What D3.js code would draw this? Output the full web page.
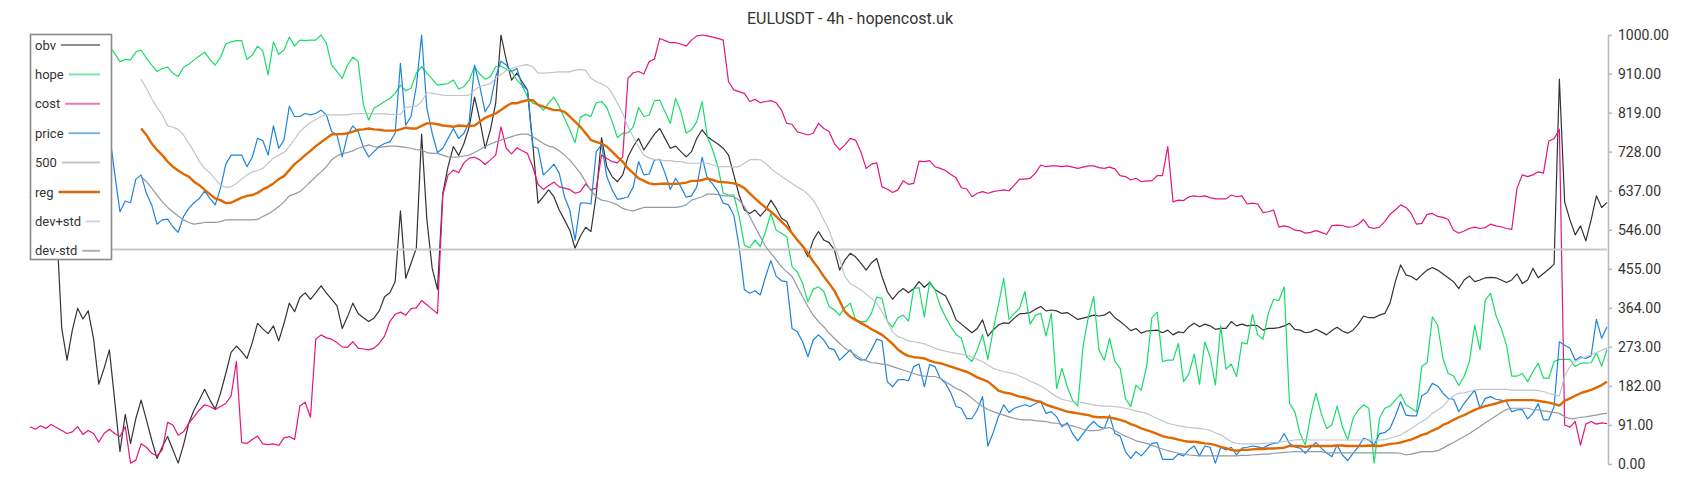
<!DOCTYPE html>
<html><head><meta charset="utf-8">
<script src="https://cdn.jsdelivr.net/npm/d3@7"></script>
<style>
body{margin:0;background:#fff;}
svg text{font-family:Roboto, "Noto Sans", sans-serif;}
</style>
</head><body>
<svg id="chart" width="1700" height="500"></svg>
<script>
const chartTitle = "EULUSDT - 4h - hopencost.uk";
const yTickValues = [0,91,182,273,364,455,546,637,728,819,910,1000];
const seriesNames = ["obv","hope","cost","price","500","reg","dev+std","dev-std"];
const level500 = 500;
const bandStart = 21;

const obv = [
620,640,600,610,590,560,316,242,312,363,
338,357,293,186,223,266,149,29,116,48,
106,149,103,56,13,40,64,33,2,44,
95,126,149,174,149,128,165,211,260,275,
262,246,283,328,315,304,322,287,328,375,
355,388,399,384,399,415,399,384,369,316,
343,375,351,341,332,340,357,390,399,425,
590,433,468,503,769,569,456,407,631,693,
740,719,747,786,855,802,736,779,841,1000,
942,895,911,891,872,747,608,623,639,623,
592,569,545,503,531,552,542,627,761,693,
670,658,674,716,740,759,732,751,769,782,
759,736,741,728,716,728,759,779,763,754,
746,736,720,674,627,592,584,592,578,592,
615,596,573,565,538,522,507,483,522,542,
522,516,499,452,476,491,483,468,452,469,
479,437,402,384,399,409,399,409,425,412,
423,407,399,392,367,336,326,316,306,316,
336,298,312,324,329,328,340,350,351,353,
361,367,357,359,357,351,353,345,337,340,
343,347,345,347,355,341,332,322,311,316,
305,310,311,312,306,312,301,308,306,320,
328,320,326,322,314,316,316,332,322,326,
322,324,322,312,316,316,318,322,328,314,
312,306,308,314,308,301,311,319,310,305,
312,326,345,341,341,347,351,375,425,464,
441,437,429,441,452,458,452,443,434,425,
409,429,438,425,429,434,435,434,429,423,
429,443,421,429,456,434,444,454,466,897,
611,569,534,555,520,569,625,598,610];

const hope = [
960,955,965,958,950,962,970,960,955,948,
958,965,970,968,975,973,957,938,943,942,
960,965,946,930,915,922,925,911,903,925,
932,942,951,960,943,930,948,979,984,987,
987,943,953,974,963,907,984,955,965,995,
974,988,987,988,988,1000,981,930,915,899,
930,948,939,837,802,829,837,845,852,864,
883,870,876,911,926,911,897,883,885,887,
895,874,880,895,926,909,897,903,926,928,
920,915,895,882,856,841,837,825,841,855,
833,806,779,749,808,815,810,842,845,831,
798,761,771,772,786,831,810,813,847,848,
821,794,852,821,771,779,798,845,763,732,
693,631,627,627,577,510,504,522,507,542,
584,545,538,530,460,448,421,378,407,413,
402,367,359,347,365,375,336,332,332,351,
389,386,333,319,341,347,333,409,411,343,
425,407,368,343,320,302,293,250,239,266,
302,244,312,371,433,337,351,363,402,326,
347,351,298,351,176,223,180,149,135,275,
343,390,266,242,293,239,223,153,134,184,
172,227,341,354,239,242,242,281,192,210,
256,186,285,250,184,322,221,233,204,283,
280,349,301,291,351,384,381,413,141,122,
71,44,114,165,118,83,91,135,87,56,
106,126,138,130,2,106,130,135,149,163,
138,130,122,228,236,343,324,246,211,205,
183,204,239,324,266,382,398,347,316,277,
205,205,211,192,215,235,200,200,239,244,
244,244,227,235,235,236,259,228,267];

const cost = [
87,81,89,83,92,85,78,71,75,87,
69,78,71,51,71,81,71,64,87,2,
9,47,39,25,19,33,97,91,67,75,
95,110,126,138,134,127,134,141,159,239,
50,48,57,65,47,45,47,43,61,64,
57,135,144,109,291,301,294,291,283,273,
272,285,270,268,266,270,281,298,332,349,
354,347,362,364,381,371,361,351,627,674,
685,679,702,713,715,709,698,709,720,786,
736,723,737,730,724,693,652,640,649,657,
646,643,640,631,635,653,639,643,720,712,
705,702,716,899,912,915,909,938,944,992,
987,982,982,979,974,988,998,1000,998,995,
992,988,891,872,868,864,845,850,842,845,
847,842,825,794,792,774,771,767,771,794,
782,775,747,732,744,759,755,728,689,699,
702,646,641,633,639,660,652,654,706,705,
707,693,689,684,675,667,644,641,623,631,
635,631,635,637,639,637,650,664,664,666,
678,697,693,695,695,693,695,692,689,692,
695,695,691,689,692,688,672,670,662,666,
658,660,660,672,672,740,611,615,614,623,
625,623,625,621,618,618,618,627,623,625,
606,608,606,586,588,592,552,555,552,545,
544,538,540,544,540,535,556,557,556,552,
553,559,570,552,549,552,565,582,592,604,
598,584,559,561,582,584,577,575,570,545,
538,543,549,552,549,551,559,555,553,549,
547,643,674,670,674,681,678,753,758,780,
91,86,99,44,93,99,93,96,94];

const price = [
790,800,785,770,790,805,795,780,800,815,
800,790,805,795,785,771,678,588,613,609,
664,674,631,604,559,569,571,553,540,577,
596,609,619,636,619,604,643,699,720,720,
720,693,715,759,754,720,788,736,755,834,
810,810,817,814,817,825,814,775,767,716,
767,788,775,738,716,728,740,747,751,771,
934,790,810,880,1000,829,771,726,736,759,
782,759,771,798,930,880,821,841,903,939,
930,915,922,883,872,740,736,674,685,699,
678,623,592,522,608,609,606,728,744,670,
639,617,619,623,646,705,674,676,709,710,
678,640,666,646,622,625,646,715,666,653,
635,608,604,580,507,406,398,404,394,437,
474,438,427,425,316,308,285,250,289,301,
289,270,266,242,254,266,249,242,244,266,
291,287,192,180,196,197,194,227,233,180,
232,227,200,188,166,134,130,106,106,126,
157,42,73,110,138,120,130,134,138,134,
141,145,118,122,110,87,96,71,54,71,
87,99,87,83,114,71,65,29,13,29,
19,33,48,50,11,11,11,23,19,33,
42,19,42,39,2,39,33,39,21,37,
39,42,40,37,44,48,50,71,48,40,
37,25,39,50,37,26,17,44,21,8,
25,40,60,56,44,71,73,83,112,145,
114,112,112,159,166,188,182,165,153,151,
122,141,157,172,130,153,157,151,149,145,
122,126,127,105,118,141,103,103,134,285,
277,270,242,250,246,252,337,293,320];

// reg, dev+std, dev-std start at index bandStart
const reg = [
782,767,747,732,720,705,693,684,676,670,
658,650,639,629,619,615,608,609,615,621,
625,627,632,640,646,654,664,671,685,699,
709,720,730,741,750,759,768,769,769,771,
775,779,780,782,780,779,777,777,777,780,
784,782,782,788,794,794,792,789,788,786,
789,788,788,789,798,807,812,817,825,834,
841,841,845,848,848,837,833,829,825,825,
821,810,798,786,771,755,751,747,740,728,
716,705,689,678,666,660,654,652,653,654,
653,653,654,656,660,660,662,666,662,658,
657,656,654,650,643,631,619,608,598,588,
577,565,553,538,522,508,491,472,456,437,
421,404,380,355,343,336,329,322,314,308,
301,291,280,267,258,252,249,248,246,241,
237,235,231,227,223,219,215,209,202,197,
192,182,171,167,165,161,157,155,151,147,
145,138,134,130,126,122,120,118,116,114,
110,109,109,108,106,103,99,93,89,83,
79,75,70,65,62,60,57,54,52,52,
50,48,47,44,40,37,33,31,33,33,
34,35,35,36,36,37,38,42,42,42,
40,42,42,42,42,42,43,43,42,42,
42,42,43,42,42,44,47,48,50,54,
57,62,68,71,78,83,91,96,103,109,
114,120,126,131,135,138,141,145,148,149,
149,149,149,149,147,145,143,140,136,147,
153,159,165,169,173,178,184,192];

const devUp = [
897,876,852,831,814,788,785,780,767,747,
728,705,689,679,664,650,645,646,654,664,
674,681,684,689,701,713,720,726,740,757,
775,786,796,803,810,814,814,814,814,814,
816,817,817,817,816,816,816,815,815,815,
831,833,834,845,866,864,862,860,859,859,
859,859,860,872,880,883,887,899,908,917,
922,926,929,931,926,911,911,912,913,914,
914,914,918,920,917,899,891,886,880,864,
841,817,786,763,740,720,713,710,709,707,
707,705,705,702,701,701,702,701,697,693,
693,693,692,693,701,709,710,709,701,689,
679,671,662,654,646,639,629,615,594,569,
545,510,478,437,421,413,406,396,386,375,
355,332,308,297,293,287,285,283,280,275,
270,266,263,260,258,256,254,250,244,239,
231,223,219,215,213,210,205,200,193,188,
182,174,165,157,151,148,145,145,143,140,
138,136,135,135,134,132,130,127,124,121,
118,112,106,101,95,92,89,87,85,84,
83,81,78,73,68,60,52,48,47,47,
47,47,48,49,50,51,52,54,56,57,
57,56,56,56,56,56,56,56,56,56,
56,56,56,56,56,57,60,64,68,75,
83,91,99,106,118,126,134,149,159,165,
166,169,172,174,174,174,174,174,174,172,
172,172,172,172,171,169,165,161,159,205,
228,238,246,250,254,259,265,270];

const devDn = [
670,658,643,627,611,598,588,578,569,563,
559,561,563,563,563,565,569,569,569,569,
569,569,570,577,583,591,600,611,625,629,
635,646,658,670,681,693,709,718,724,726,
730,736,740,744,740,738,740,741,741,740,
738,736,733,732,726,724,724,720,716,715,
716,718,720,726,733,740,746,751,755,759,
763,767,769,769,763,755,747,741,738,730,
720,709,693,678,658,637,623,615,613,609,
604,596,592,590,594,598,598,598,598,598,
598,598,600,604,615,619,623,629,629,628,
625,625,623,615,600,577,553,530,507,491,
476,460,448,437,413,390,367,347,332,320,
305,293,281,270,262,254,246,241,236,235,
233,231,227,223,219,215,211,207,205,204,
204,200,192,184,176,171,163,153,143,134,
127,122,118,114,110,106,104,103,103,101,
100,99,96,95,92,91,89,85,81,78,
78,79,83,85,78,71,65,60,54,51,
48,44,39,35,31,28,25,23,21,20,
19,19,19,19,19,19,19,19,20,20,
21,22,23,23,25,26,27,28,29,29,
29,29,29,29,26,26,26,26,26,26,
26,26,26,26,26,26,26,26,25,21,
23,26,29,29,29,31,37,44,50,57,
64,71,79,87,96,104,112,120,127,130,
130,130,130,127,126,124,122,120,118,110,
106,106,109,110,112,114,117,118];

const lineColors = {obv:"#333333", hope:"#17dd68", cost:"#e3167c", price:"#1d84de",
  "500":"#c8c8c8", reg:"#e06800", "dev+std":"#bfc5cb", "dev-std":"#8f9aa2"};
const legendColors = {obv:"#8e8e8e", hope:"#7ee8a8", cost:"#ea78b6", price:"#76b3e8",
  "500":"#c6c6c6", reg:"#d9650f", "dev+std":"#d2d6da", "dev-std":"#a9b1b8"};

const svg = d3.select("#chart");
const N = obv.length;
const x = d3.scaleLinear().domain([0, N - 1]).range([30, 1607]);
const y = d3.scaleLinear().domain([0, 1000]).range([464, 35]);

const lineFull = d3.line().x((d, i) => x(i)).y(d => y(d));
const lineBand = d3.line().x((d, i) => x(i + bandStart)).y(d => y(d));

const plot = svg.append("g");
function draw(data, gen, color, width) {
  plot.append("path").datum(data).attr("d", gen)
    .attr("fill", "none").attr("stroke", color).attr("stroke-width", width)
    .attr("stroke-linejoin", "round");
}
draw(obv, lineFull, lineColors.obv, 1.2);
draw(hope, lineFull, lineColors.hope, 1.2);
draw(cost, lineFull, lineColors.cost, 1.2);
draw(price, lineFull, lineColors.price, 1.2);
plot.append("line").attr("x1", x(0)).attr("x2", x(N - 1))
  .attr("y1", y(level500)).attr("y2", y(level500))
  .attr("stroke", lineColors["500"]).attr("stroke-width", 1.8);
draw(reg, lineBand, lineColors.reg, 2.4);
draw(devUp, lineBand, lineColors["dev+std"], 1.2);
draw(devDn, lineBand, lineColors["dev-std"], 1.2);

// right axis
const axis = d3.axisRight(y).tickValues(yTickValues).tickFormat(d3.format(".2f"))
  .tickSizeInner(4).tickSizeOuter(0).tickPadding(6);
const ag = svg.append("g").attr("transform", "translate(1608,0)").call(axis);
ag.select(".domain").attr("stroke", "#b5bdc4").attr("stroke-width", 1.6);
ag.selectAll(".tick line").attr("stroke", "#b5bdc4").attr("stroke-width", 1.6);
ag.selectAll(".tick text").attr("fill", "#333").style("font-size", "14px")
  .style("font-family", "Roboto, sans-serif");

// title
svg.append("text").attr("x", 850).attr("y", 24).attr("text-anchor", "middle")
  .attr("fill", "#333").style("font-size", "16px").text(chartTitle);

// legend
const lg = svg.append("g");
lg.append("rect").attr("x", 30.5).attr("y", 34.5).attr("width", 81).attr("height", 225)
  .attr("fill", "#fff").attr("stroke", "#8a8a8a").attr("stroke-width", 1.6);
seriesNames.forEach((name, i) => {
  const by = 49.5 + i * 29.4;
  const t = lg.append("text").attr("x", 35).attr("y", by).attr("fill", "#333")
    .style("font-size", "13px").text(name);
  const tw = t.node().getComputedTextLength();
  lg.append("line").attr("x1", 35 + tw + 5).attr("x2", 100)
    .attr("y1", by - 4.5).attr("y2", by - 4.5)
    .attr("stroke", legendColors[name]).attr("stroke-width", name === "reg" ? 2.6 : 2);
});
</script>
</body></html>
